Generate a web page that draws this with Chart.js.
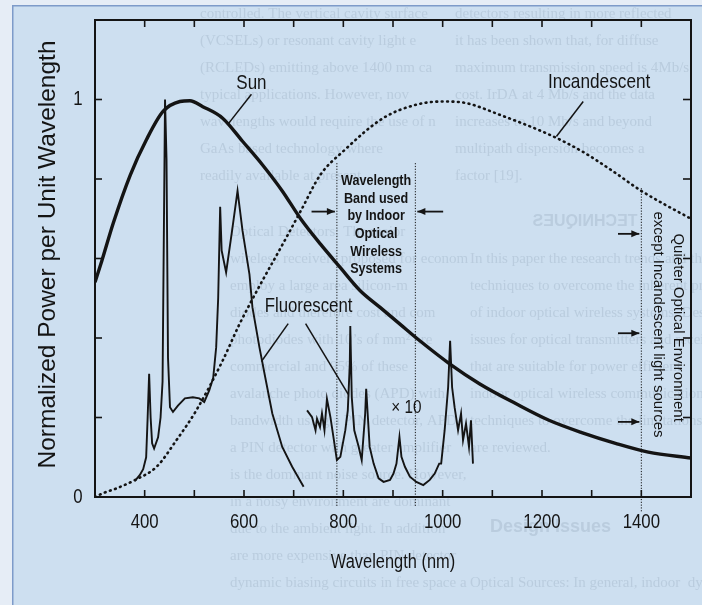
<!DOCTYPE html>
<html>
<head>
<meta charset="utf-8">
<title>Ambient light spectra</title>
<script src="https://cdn.jsdelivr.net/npm/chart.js@4.4.1/dist/chart.umd.min.js"></script>
<style>
  html, body { margin: 0; padding: 0; background: #cddff0; }
  canvas { display: block; }
</style>
</head>
<body>
<canvas id="spectra" width="702" height="605"></canvas>
<script>
// wavelength (nm) / normalized power pairs for each source
const sunWl  = [300, 314, 337, 371, 404, 437, 471, 491, 517, 557, 597, 637, 677, 714, 754, 794, 834, 874, 914, 954, 1014, 1074, 1147, 1214, 1280, 1348, 1414, 1500];
const sunPw  = [0.54, 0.595, 0.69, 0.81, 0.90, 0.97, 0.995, 0.997, 0.982, 0.953, 0.895, 0.836, 0.77, 0.70, 0.636, 0.577, 0.519, 0.477, 0.435, 0.393, 0.335, 0.285, 0.235, 0.193, 0.162, 0.135, 0.113, 0.098];

const incWl  = [300, 317, 344, 381, 424, 464, 504, 557, 591, 637, 674, 714, 754, 800, 880, 947, 1000, 1047, 1114, 1214, 1280, 1340, 1400, 1447, 1500];
const incPw  = [0.0, 0.01, 0.022, 0.043, 0.076, 0.143, 0.218, 0.343, 0.435, 0.544, 0.627, 0.719, 0.811, 0.87, 0.953, 0.987, 0.995, 0.991, 0.962, 0.912, 0.87, 0.822, 0.77, 0.736, 0.70];

const fluoWl = [380, 390, 397, 403, 406, 409, 412, 415, 419, 427, 432, 436, 441, 444, 447, 451, 457, 467, 481, 497, 510, 520, 530, 538, 544, 548, 552, 555, 564, 576, 587, 597, 611, 617, 631, 644, 657, 677, 697, 720];
const fluoPw = [0.04, 0.055, 0.07, 0.10, 0.20, 0.31, 0.20, 0.135, 0.122, 0.15, 0.20, 0.29, 1.0, 0.85, 0.35, 0.226, 0.214, 0.23, 0.248, 0.251, 0.248, 0.239, 0.268, 0.30, 0.377, 0.50, 0.73, 0.62, 0.565, 0.67, 0.77, 0.67, 0.56, 0.477, 0.377, 0.293, 0.21, 0.126, 0.076, 0.026];

// near infrared part of the fluorescent spectrum, magnified x10
const fluoX10Wl = [727, 737, 744, 747, 753, 757, 762, 767, 774, 781, 787, 794, 804, 809, 813, 814, 817, 822, 831, 837, 844, 846, 849, 853, 861, 871, 881, 894, 901, 907, 913, 917, 924, 934, 947, 961, 974, 984, 993, 997, 1004, 1011, 1015, 1019, 1024, 1031, 1037, 1041, 1047, 1053, 1057, 1061];
const fluoX10Pw = [0.218, 0.201, 0.168, 0.197, 0.176, 0.21, 0.168, 0.247, 0.201, 0.143, 0.093, 0.101, 0.168, 0.218, 0.335, 0.43, 0.251, 0.168, 0.126, 0.093, 0.21, 0.272, 0.21, 0.126, 0.084, 0.047, 0.038, 0.043, 0.059, 0.084, 0.151, 0.101, 0.076, 0.051, 0.038, 0.03, 0.043, 0.059, 0.084, 0.084, 0.168, 0.276, 0.393, 0.276, 0.226, 0.168, 0.21, 0.143, 0.185, 0.126, 0.193, 0.084];

// axis labels
const xTickLabels = [400, 600, 800, 1000, 1200, 1400];
const yTickLabels = [0, 1];

// band used by indoor optical wireless links, and the quiet region edge
const bandEdges = [787, 945];
const quietEdge = 1400;

const ghostColor = 'rgba(70, 92, 115, 0.14)';
const ink = '#141414';

function pts(xs, ys) {
  return xs.map((x, i) => ({ x: x, y: ys[i] }));
}

function txt(ctx, s, x, y, o) {
  o = o || {};
  ctx.save();
  ctx.translate(x, y);
  if (o.rot) ctx.rotate(o.rot);
  ctx.scale(o.sx || 1, 1);
  ctx.font = (o.weight || 'normal') + ' ' + (o.size || 16) + 'px ' + (o.family || '"Liberation Sans", Arial, sans-serif');
  ctx.fillStyle = o.color || ink;
  ctx.textAlign = o.align || 'center';
  ctx.textBaseline = 'middle';
  ctx.fillText(s, 0, 0);
  ctx.restore();
}

function line(ctx, x1, y1, x2, y2, w, dash) {
  ctx.save();
  ctx.strokeStyle = ink;
  ctx.lineWidth = w || 1.5;
  if (dash) ctx.setLineDash(dash);
  ctx.beginPath();
  ctx.moveTo(x1, y1);
  ctx.lineTo(x2, y2);
  ctx.stroke();
  ctx.restore();
}

function arrow(ctx, x1, y, x2) {
  line(ctx, x1, y, x2, y, 1.8);
  const d = x2 > x1 ? 1 : -1;
  ctx.save();
  ctx.fillStyle = ink;
  ctx.beginPath();
  ctx.moveTo(x2, y);
  ctx.lineTo(x2 - d * 8, y - 3.5);
  ctx.lineTo(x2 - d * 8, y + 3.5);
  ctx.closePath();
  ctx.fill();
  ctx.restore();
}

// faint print showing through from the surrounding page
const ghostUpper = [
  ['controlled. The vertical cavity surface', 'detectors resulting in more reflected'],
  ['(VCSELs) or resonant cavity light e', 'it has been shown that, for diffuse'],
  ['(RCLEDs) emitting above 1400 nm ca', 'maximum transmission speed is 4Mb/s'],
  ['typical applications. However, nov', 'cost. IrDA at 4 Mb/s and the data'],
  ['wavelengths would require the use of n', 'increases to 10 Mb/s and beyond'],
  ['GaAs based technology where', 'multipath dispersion becomes a'],
  ['readily available at present.', 'factor [19].']
];
const ghostLower = [
  ['Optical Detectors: The major', ''],
  ['wireless receivers proposed for econom', 'In this paper the research trends and the'],
  ['employ a large area silicon-m', 'techniques to overcome the inherent problems'],
  ['diodes and therefore cost and com', 'of indoor optical wireless systems. Design'],
  ['photodiodes with 10\u2019s of mm\u00b2 are', 'issues for optical transmitters and receivers'],
  ['commercial and 95% of these', 'that are suitable for power efficient'],
  ['avalanche photo diodes (APD) with', 'indoor optical wireless communications'],
  ['bandwidth using a PIN detector, APD', 'techniques to overcome the limitations'],
  ['a PIN detector with greater amplifier', 'are reviewed.'],
  ['is the dominant noise source. However,', ''],
  ['in a noisy environment are dominant', ''],
  ['due to the ambient light. In addition', ''],
  ['are more expensive than PIN detector', ''],
  ['dynamic biasing circuits in free space a', 'Optical Sources: In general, indoor  dynam']
];

const pagePlugin = {
  id: 'page',
  beforeDraw(chart) {
    const ctx = chart.ctx;
    ctx.save();
    ctx.fillStyle = '#cddff0';
    ctx.fillRect(0, 0, chart.width, chart.height);
    ctx.fillStyle = '#e6edf6';
    ctx.fillRect(0, 0, 12, chart.height);
    ctx.fillRect(0, 0, chart.width, 5);
    ctx.fillStyle = '#7e9bc9';
    ctx.fillRect(12, 5, 1.5, chart.height);
    ctx.fillRect(12, 5, chart.width, 1.5);
    ctx.restore();

    const g = { size: 15, family: '"Liberation Serif", "DejaVu Serif", serif', color: ghostColor, align: 'left' };
    ghostUpper.forEach((r, i) => {
      txt(ctx, r[0], 200, 14 + i * 27, g);
      txt(ctx, r[1], 455, 14 + i * 27, g);
    });
    // heading printed on the reverse side, seen mirrored
    ctx.save();
    ctx.translate(585, 222);
    ctx.scale(-1, 1);
    txt(ctx, 'TECHNIQUES', 0, 0, { size: 16, weight: 'bold', color: ghostColor });
    ctx.restore();
    ghostLower.forEach((r, i) => {
      txt(ctx, r[0], 230, 232 + i * 27, g);
      txt(ctx, r[1], 470, 232 + i * 27, g);
    });
    txt(ctx, 'Design Issues', 490, 527, { size: 18, weight: 'bold', color: ghostColor, align: 'left' });
  },
  afterDraw(chart) {
    const ctx = chart.ctx;
    const xs = chart.scales.x, ys = chart.scales.y;
    const a = chart.chartArea;
    const X = v => xs.getPixelForValue(v);
    const Y = v => ys.getPixelForValue(v);

    // frame with inward ticks on every side
    ctx.save();
    ctx.strokeStyle = ink;
    ctx.lineWidth = 2;
    ctx.strokeRect(a.left, a.top, a.right - a.left, a.bottom - a.top);
    ctx.restore();
    xs.ticks.forEach(t => {
      const px = X(t.value);
      if (px <= a.left + 1 || px >= a.right - 1) return;
      line(ctx, px, a.bottom, px, a.bottom - 7, 1.6);
      line(ctx, px, a.top, px, a.top + 7, 1.6);
    });
    ys.ticks.forEach(t => {
      const py = Y(t.value);
      if (py <= a.top + 1 || py >= a.bottom - 1) return;
      line(ctx, a.left, py, a.left + 7, py, 1.6);
      line(ctx, a.right, py, a.right - 8, py, 1.6);
    });

    // tick labels and axis titles
    const cond = { size: 21, sx: 0.8 };
    xTickLabels.forEach(v => txt(ctx, String(v), X(v), a.bottom + 25, cond));
    yTickLabels.forEach(v => txt(ctx, String(v), a.left - 17, Y(v), cond));
    txt(ctx, 'Wavelength (nm)', (a.left + a.right) / 2, 562, { size: 20, sx: 0.82 });
    txt(ctx, 'Normalized Power per Unit Wavelength', 48, (a.top + a.bottom) / 2 - 4, { size: 24.5, rot: -Math.PI / 2 });

    // curve labels with leader lines
    txt(ctx, 'Sun', X(615), Y(1.04), { size: 20, sx: 0.85 });
    line(ctx, X(615), Y(1.013), X(569), Y(0.94), 1.5);
    txt(ctx, 'Incandescent', X(1315), Y(1.043), { size: 21, sx: 0.82 });
    line(ctx, X(1283), Y(0.995), X(1229), Y(0.907), 1.5);
    txt(ctx, 'Fluorescent', X(730), Y(0.479), { size: 20, sx: 0.84 });
    line(ctx, X(689), Y(0.436), X(635), Y(0.341), 1.5);
    line(ctx, X(724), Y(0.436), X(810), Y(0.258), 1.5);
    txt(ctx, '\u00d7 10', X(927), Y(0.223), { size: 18, sx: 0.85 });

    // wavelength band markers
    const lowY = a.bottom + 9;
    bandEdges.forEach(v => line(ctx, X(v), Y(0.84), X(v), lowY, 1, [1.2, 1.6]));
    const bandLines = ['Wavelength', 'Band used', 'by Indoor', 'Optical', 'Wireless', 'Systems'];
    const bx = (X(bandEdges[0]) + X(bandEdges[1])) / 2;
    bandLines.forEach((s, i) => txt(ctx, s, bx, Y(0.795) + i * 17.7, { size: 14, weight: 'bold', sx: 0.9 }));
    arrow(ctx, X(736), Y(0.718), X(bandEdges[0]) - 2);
    arrow(ctx, X(1001), Y(0.718), X(bandEdges[1]) + 2);

    // quieter region beyond 1400 nm
    line(ctx, X(quietEdge), Y(0.777), X(quietEdge), lowY + 6, 1, [1.2, 1.6]);
    [0.662, 0.412, 0.189].forEach(v => arrow(ctx, X(1353), Y(v), X(quietEdge) - 2));
    txt(ctx, 'Quieter Optical Environment', X(1474), Y(0.426), { size: 15, rot: Math.PI / 2 });
    txt(ctx, 'except Incandescent light sources', X(1434), Y(0.434), { size: 15, rot: Math.PI / 2 });
  }
};

new Chart(document.getElementById('spectra'), {
  type: 'line',
  data: {
    datasets: [
      {
        label: 'Sun',
        data: pts(sunWl, sunPw),
        borderColor: ink,
        borderWidth: 3.4,
        pointRadius: 0,
        cubicInterpolationMode: 'monotone'
      },
      {
        label: 'Incandescent',
        data: pts(incWl, incPw),
        borderColor: ink,
        borderWidth: 2.6,
        borderDash: [0.8, 4.6],
        borderCapStyle: 'round',
        pointRadius: 0,
        cubicInterpolationMode: 'monotone'
      },
      {
        label: 'Fluorescent',
        data: pts(fluoWl, fluoPw),
        borderColor: ink,
        borderWidth: 1.9,
        pointRadius: 0,
        tension: 0
      },
      {
        label: 'Fluorescent x10',
        data: pts(fluoX10Wl, fluoX10Pw),
        borderColor: ink,
        borderWidth: 1.9,
        pointRadius: 0,
        tension: 0
      }
    ]
  },
  options: {
    responsive: false,
    animation: false,
    layout: { padding: { left: 0, right: 11, top: 20, bottom: 0 } },
    plugins: { legend: { display: false }, tooltip: { enabled: false } },
    scales: {
      x: {
        type: 'linear', min: 300, max: 1500,
        ticks: { display: false, stepSize: 100 },
        grid: { display: false }, border: { display: false },
        afterFit: s => { s.height = 108; }
      },
      y: {
        min: 0, max: 1.2,
        ticks: { display: false, stepSize: 0.2 },
        grid: { display: false }, border: { display: false },
        afterFit: s => { s.width = 95; }
      }
    }
  },
  plugins: [pagePlugin]
});
</script>
</body>
</html>
